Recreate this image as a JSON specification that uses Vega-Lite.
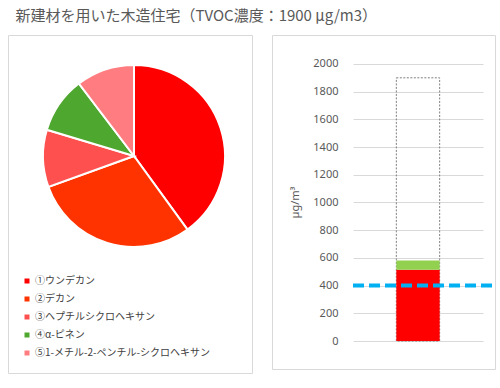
{
  "$schema": "https://vega.github.io/schema/vega-lite/v6.json",
  "background": "white",
  "padding": {"left": 7, "top": 8, "right": 8, "bottom": 5},
  "config": {"font": "Noto Sans CJK JP", "view": {"stroke": "#d9d9d9"}},
  "title": {
    "text": "新建材を用いた木造住宅（TVOC濃度：1900 µg/m3）",
    "anchor": "start",
    "font": "Noto Sans CJK JP",
    "fontSize": 15,
    "fontWeight": "normal",
    "color": "#595959",
    "dx": 8,
    "offset": 11
  },
  "spacing": 18,
  "resolve": {"scale": {"color": "independent"}, "legend": {"color": "independent"}},
  "hconcat": [
    {
      "width": 244,
      "height": 338,
      "view": {"stroke": "#d9d9d9"},
      "data": {
        "values": [
          {"name": "①ウンデカン", "v": 232},
          {"name": "②デカン", "v": 171},
          {"name": "③ヘプチルシクロヘキサン", "v": 59},
          {"name": "④α-ピネン", "v": 58},
          {"name": "⑤1-メチル-2-ペンチル-シクロヘキサン", "v": 60}
        ]
      },
      "mark": {"type": "arc", "outerRadius": 91, "x": 126, "y": 121, "stroke": "white", "strokeWidth": 2},
      "encoding": {
        "theta": {"field": "v", "type": "quantitative", "stack": true},
        "order": {"field": "name", "sort": "ascending"},
        "color": {
          "field": "name",
          "type": "nominal",
          "scale": {
            "domain": ["①ウンデカン", "②デカン", "③ヘプチルシクロヘキサン", "④α-ピネン", "⑤1-メチル-2-ペンチル-シクロヘキサン"],
            "range": ["#FF0000", "#FF3300", "#FF5050", "#4EA72E", "#FF7C80"]
          },
          "legend": {
            "orient": "none",
            "legendX": 14,
            "legendY": 241,
            "title": null,
            "padding": 0,
            "symbolType": "square",
            "symbolSize": 25,
            "symbolStrokeWidth": 0,
            "labelFontSize": 10,
            "labelColor": "#404040",
            "labelOffset": 3,
            "rowPadding": 8,
            "labelLimit": 300
          }
        }
      }
    },
    {
      "width": 223,
      "height": 334,
      "view": {"stroke": "#d9d9d9"},
      "encoding": {
        "x": {
          "field": "cat",
          "type": "nominal",
          "axis": null,
          "scale": {"range": [81, 211], "paddingInner": 0.5, "paddingOuter": 0.5}
        },
        "y": {
          "field": "v",
          "type": "quantitative",
          "scale": {"domain": [-202, 2209], "nice": false, "zero": false},
          "axis": {
            "values": [0, 200, 400, 600, 800, 1000, 1200, 1400, 1600, 1800, 2000],
            "format": "d",
            "grid": true,
            "gridColor": "#d9d9d9",
            "gridWidth": 1,
            "domain": false,
            "ticks": false,
            "tickSize": 0,
            "offset": -81,
            "labelPadding": 15,
            "labelFontSize": 11,
            "labelColor": "#595959",
            "labelFont": "Noto Sans",
            "title": "µg/m³",
            "titleFontSize": 11,
            "titleFontWeight": "normal",
            "titleColor": "#595959",
            "titleFont": "Noto Sans",
            "titlePadding": 12
          }
        }
      },
      "layer": [
        {
          "data": {"values": [{"cat": "新建材を用いた木造住宅", "v": 1900}]},
          "mark": {"type": "bar", "fillOpacity": 0, "stroke": "#7f7f7f", "strokeWidth": 1, "strokeDash": [2, 1.5]}
        },
        {
          "data": {
            "values": [
              {"cat": "新建材を用いた木造住宅", "group": "①②③⑤", "v": 514},
              {"cat": "新建材を用いた木造住宅", "group": "④α-ピネン", "v": 67}
            ]
          },
          "mark": {"type": "bar"},
          "encoding": {
            "order": {"field": "group", "sort": "ascending"},
            "color": {
              "field": "group",
              "type": "nominal",
              "scale": {"domain": ["①②③⑤", "④α-ピネン"], "range": ["#FF0000", "#92D050"]},
              "legend": null
            }
          }
        },
        {
          "data": {"values": [{"cat": "新建材を用いた木造住宅", "v": 400}]},
          "mark": {"type": "rule", "color": "#00B0F0", "strokeWidth": 4, "strokeDash": [11, 5]},
          "encoding": {
            "x": {"field": "cat", "type": "nominal", "bandPosition": -1},
            "x2": {"value": "width"}
          }
        }
      ]
    }
  ]
}
